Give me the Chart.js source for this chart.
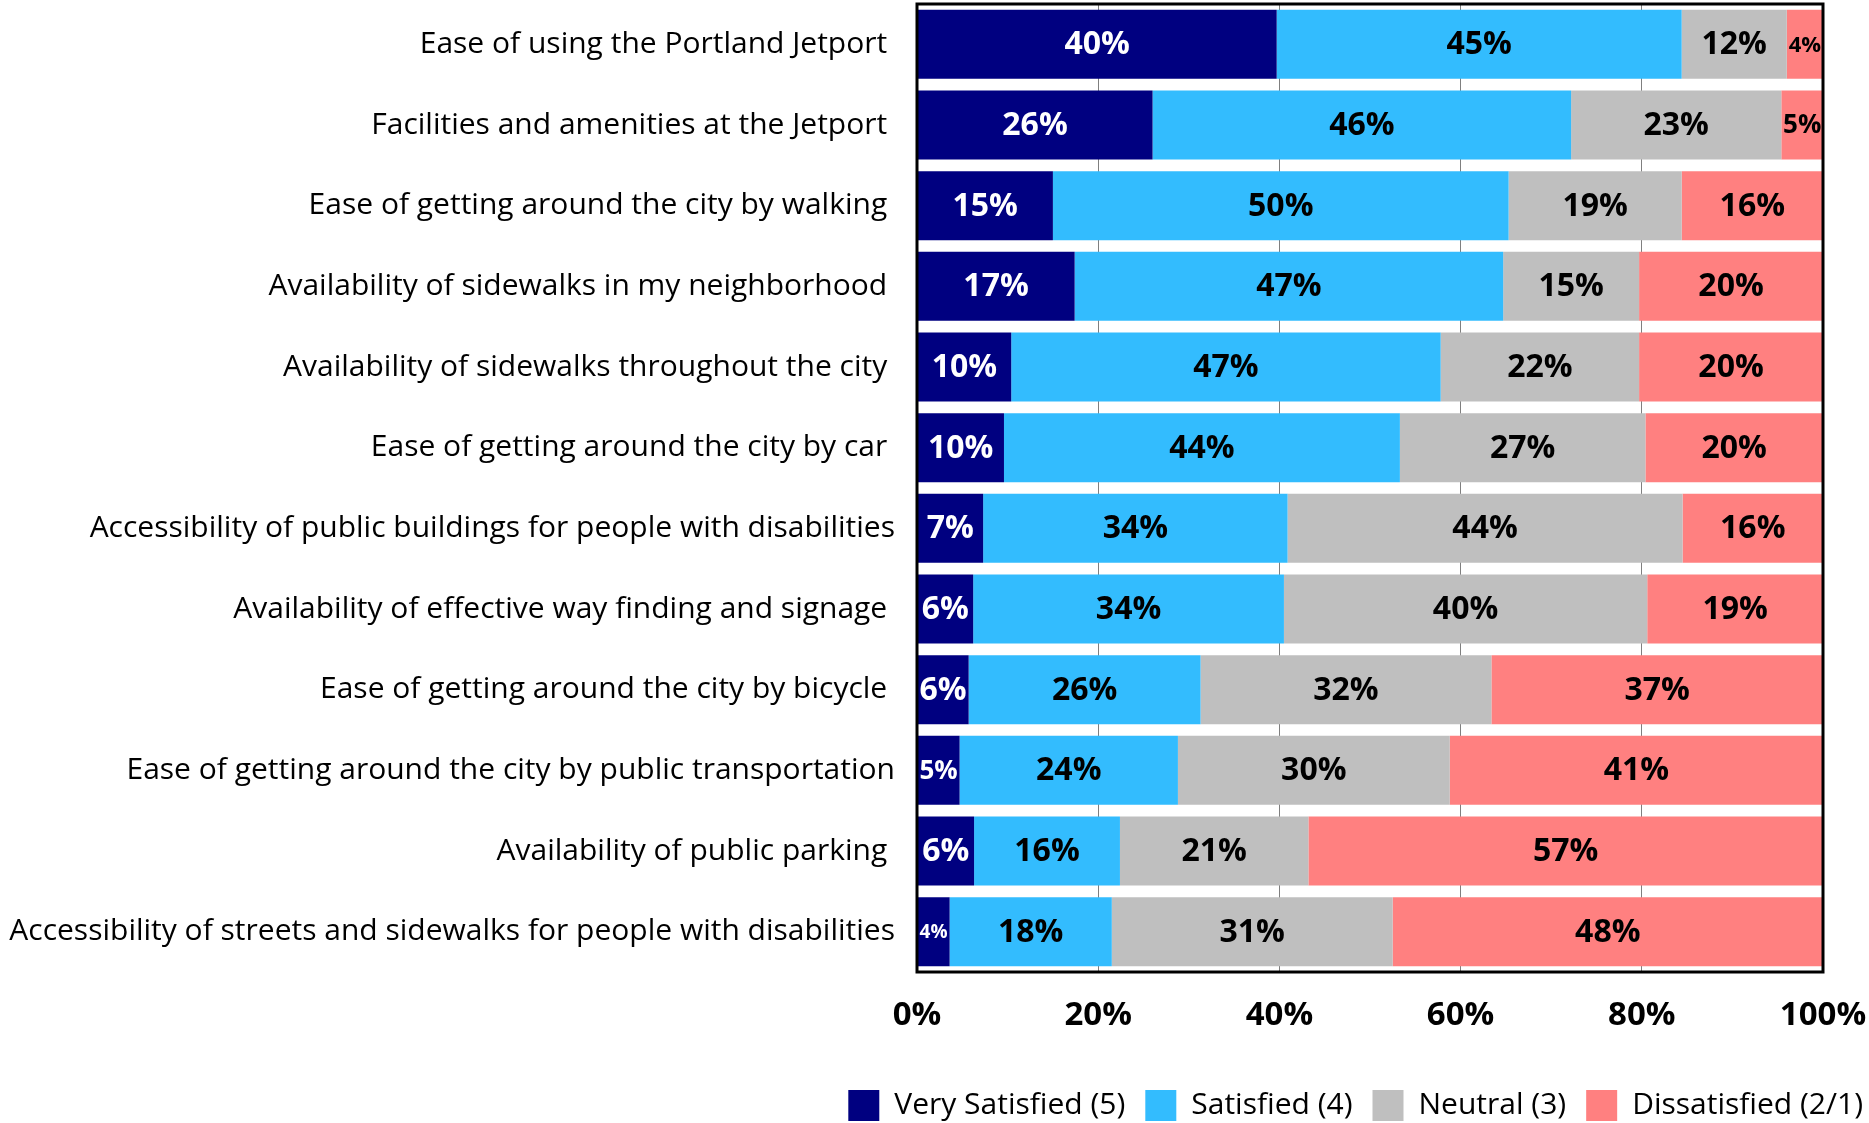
<!DOCTYPE html>
<html>
<head>
<meta charset="utf-8">
<script src="https://cdn.jsdelivr.net/npm/chart.js@4.4.0/dist/chart.umd.min.js"></script>
<style>
  html, body { margin: 0; padding: 0; background: #fff; }
  #wrap { width: 1869px; height: 1123px; }
</style>
</head>
<body>
<div id="wrap"><canvas id="chart"></canvas></div>
<script>
// categories, top to bottom
const categories = [
  'Ease of using the Portland Jetport ',
  'Facilities and amenities at the Jetport ',
  'Ease of getting around the city by walking ',
  'Availability of sidewalks in my neighborhood ',
  'Availability of sidewalks throughout the city ',
  'Ease of getting around the city by car ',
  'Accessibility of public buildings for people with disabilities',
  'Availability of effective way finding and signage ',
  'Ease of getting around the city by bicycle ',
  'Ease of getting around the city by public transportation',
  'Availability of public parking ',
  'Accessibility of streets and sidewalks for people with disabilities'
];

// percentages
const verySatisfied = [39.7, 26.0, 15.0, 17.4, 10.4, 9.6, 7.3, 6.2, 5.7, 4.7, 6.3, 3.6];
const satisfied     = [44.7, 46.2, 50.3, 47.3, 47.4, 43.7, 33.6, 34.3, 25.6, 24.1, 16.1, 17.9];
const neutral       = [11.6, 23.2, 19.1, 15.0, 21.9, 27.1, 43.6, 40.1, 32.1, 30.0, 20.8, 31.0];
const dissatisfied  = [4.0, 4.6, 15.6, 20.3, 20.3, 19.6, 15.5, 19.4, 36.6, 41.2, 56.8, 47.5];

const seriesNames = ['Very Satisfied (5)', 'Satisfied (4)', 'Neutral (3)', 'Dissatisfied (2/1)'];
const seriesColors = ['#000080', '#33BCFE', '#BFBFBF', '#FF8080'];
const xTicks = [0, 20, 40, 60, 80, 100];

const FONT = '"Open Sans", "Noto Sans", sans-serif';

// percentage labels inside each segment
const barLabels = {
  id: 'barLabels',
  afterDatasetsDraw(chart) {
    const ctx = chart.ctx;
    ctx.save();
    ctx.textAlign = 'center';
    ctx.textBaseline = 'middle';
    chart.data.datasets.forEach((ds, i) => {
      chart.getDatasetMeta(i).data.forEach((bar, j) => {
        const text = Math.round(ds.data[j]) + '%';
        const w = Math.abs(bar.x - bar.base);
        let size = 32;
        ctx.font = `bold ${size}px ${FONT}`;
        const tw = ctx.measureText(text).width;
        if (tw > w - 4) {
          size = Math.floor(size * (w - 3) / tw);
          ctx.font = `bold ${size}px ${FONT}`;
        }
        ctx.fillStyle = i === 0 ? '#fff' : '#000';
        ctx.fillText(text, (bar.x + bar.base) / 2, bar.y + 1);
      });
    });
    ctx.restore();
  }
};

// black frame round the plot area
const plotFrame = {
  id: 'plotFrame',
  afterDatasetsDraw(chart) {
    const a = chart.chartArea;
    const ctx = chart.ctx;
    ctx.save();
    ctx.strokeStyle = '#000';
    ctx.lineWidth = 3;
    ctx.strokeRect(a.left, a.top, a.right - a.left, a.bottom - a.top);
    ctx.restore();
  }
};

new Chart(document.getElementById('chart'), {
  type: 'bar',
  data: {
    labels: categories,
    datasets: [verySatisfied, satisfied, neutral, dissatisfied].map((d, i) => ({
      label: seriesNames[i],
      data: d,
      backgroundColor: seriesColors[i],
      borderWidth: 0,
      categoryPercentage: 1,
      barPercentage: 0.855
    }))
  },
  options: {
    indexAxis: 'y',
    responsive: true,
    maintainAspectRatio: false,
    animation: false,
    layout: { padding: { top: 4, right: -14, bottom: -8, left: 0 } },
    scales: {
      x: {
        stacked: true,
        min: 0,
        max: 100,
        afterBuildTicks(scale) {
          scale.ticks = xTicks.map(v => ({ value: v }));
        },
        ticks: {
          callback: v => v + '%',
          color: '#000',
          padding: 24,
          maxRotation: 0,
          font: { family: FONT, size: 33, weight: 'bold' }
        },
        grid: { color: '#7F7F7F', lineWidth: 1, drawTicks: false },
        border: { display: false },
        afterFit(scale) {
          scale.height = 98;
          scale.paddingLeft = 0;
          scale.paddingRight = 0;
        }
      },
      y: {
        stacked: true,
        ticks: {
          color: '#000',
          padding: 14,
          font: { family: FONT, size: 30 }
        },
        grid: { display: false },
        border: { display: false },
        afterFit(scale) {
          scale.width = 917;
          scale.paddingTop = 0;
          scale.paddingBottom = 0;
        }
      },
      yRight: {
        type: 'linear',
        axis: 'y',
        position: 'right',
        ticks: { display: false },
        grid: { display: false },
        border: { display: false },
        afterFit(scale) {
          scale.width = 60;
          scale.paddingTop = 0;
          scale.paddingBottom = 0;
        }
      }
    },
    plugins: {
      legend: {
        position: 'bottom',
        align: 'end',
        labels: {
          color: '#000',
          boxWidth: 31,
          boxHeight: 31,
          padding: 20,
          font: { family: FONT, size: 30 }
        }
      },
      tooltip: { enabled: false }
    }
  },
  plugins: [barLabels, plotFrame]
});
</script>
</body>
</html>
